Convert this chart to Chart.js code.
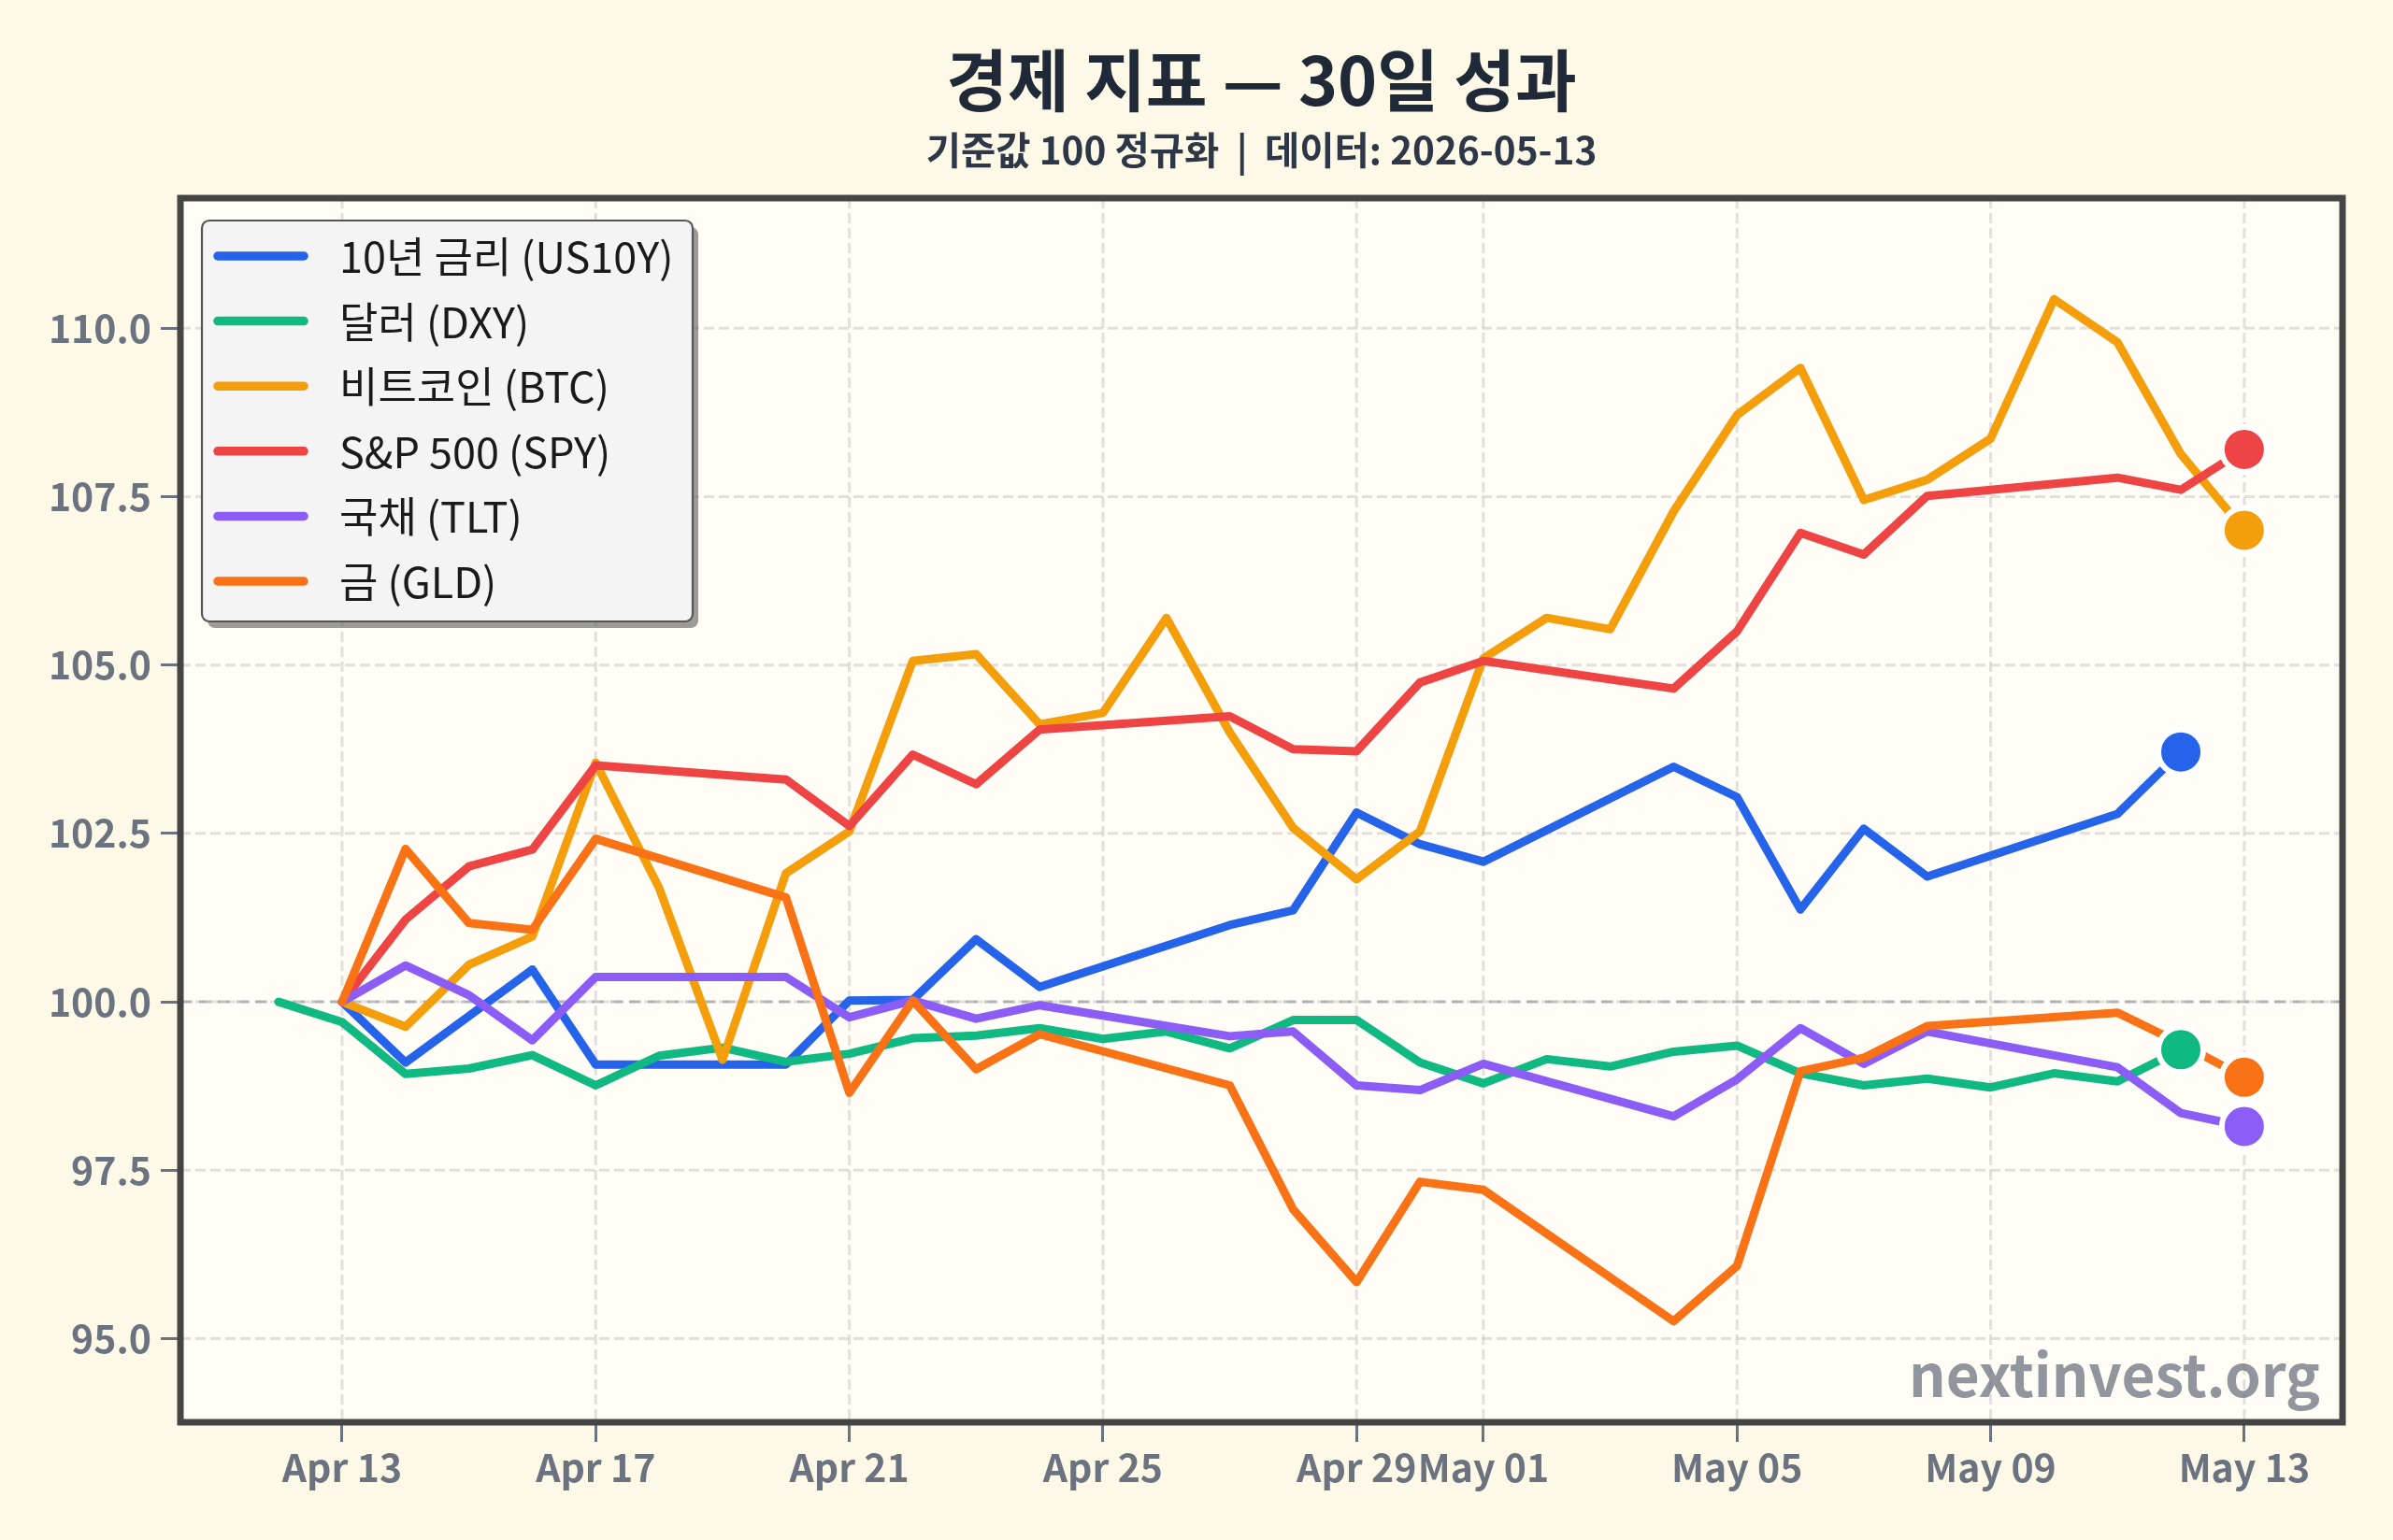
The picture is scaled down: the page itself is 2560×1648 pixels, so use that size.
<!DOCTYPE html>
<html><head><meta charset="utf-8">
<script src="https://cdn.jsdelivr.net/npm/chart.js@4.4.1/dist/chart.umd.min.js"></script>
<style>
html,body{margin:0;padding:0;background:#fef8e7;}
canvas{display:block;}
</style></head><body>
<canvas id="c" width="2560" height="1648"></canvas>
<script>
// ---------- DATA ----------
const DATES = ['2026-04-12','2026-04-13','2026-04-14','2026-04-15','2026-04-16','2026-04-17','2026-04-18','2026-04-19','2026-04-20','2026-04-21','2026-04-22','2026-04-23','2026-04-24','2026-04-25','2026-04-26','2026-04-27','2026-04-28','2026-04-29','2026-04-30','2026-05-01','2026-05-02','2026-05-03','2026-05-04','2026-05-05','2026-05-06','2026-05-07','2026-05-08','2026-05-09','2026-05-10','2026-05-11','2026-05-12','2026-05-13'];
const TICK_DATES = ['2026-04-13','2026-04-17','2026-04-21','2026-04-25','2026-04-29','2026-05-01','2026-05-05','2026-05-09','2026-05-13'];
const TICK_LABELS = ['Apr 13','Apr 17','Apr 21','Apr 25','Apr 29','May 01','May 05','May 09','May 13'];
const Y_TICKS = [95, 97.5, 100, 102.5, 105, 107.5, 110];
const BASELINE = 100;

const US10Y = [null,100.00,99.10,99.79,100.48,99.07,null,null,99.07,100.02,100.03,100.93,100.22,null,null,101.14,101.36,102.81,102.34,102.08,null,null,103.49,103.04,101.37,102.57,101.86,null,null,102.79,103.71,null];
const DXY   = [100.00,99.70,98.93,99.01,99.21,98.76,99.20,99.32,99.11,99.23,99.46,99.50,99.61,99.45,99.56,99.31,99.73,99.73,99.10,98.79,99.15,99.04,99.26,99.35,98.94,98.76,98.86,98.73,98.94,98.82,99.29,null];
const BTC   = [null,100.00,99.63,100.55,100.97,103.55,101.69,99.14,101.91,102.53,105.06,105.16,104.12,104.29,105.70,104.00,102.58,101.82,102.53,105.10,105.70,105.53,107.28,108.71,109.41,107.45,107.75,108.36,110.43,109.79,108.13,107.00];
const SPY   = [null,100.00,101.22,102.01,102.26,103.51,null,null,103.30,102.61,103.67,103.23,104.04,null,null,104.24,103.75,103.72,104.74,105.06,null,null,104.65,105.50,106.96,106.64,107.51,null,null,107.78,107.60,108.20];
const TLT   = [null,100.00,100.54,100.10,99.43,100.37,null,null,100.37,99.77,100.02,99.75,99.95,null,null,99.49,99.56,98.76,98.69,99.08,null,null,98.30,98.85,99.61,99.08,99.56,null,null,99.03,98.35,98.15];
const GLD   = [null,100.00,102.27,101.17,101.07,102.42,null,null,101.55,98.65,100.02,99.00,99.52,null,null,98.76,96.92,95.84,97.33,97.21,null,null,95.26,96.08,98.97,99.17,99.64,null,null,99.84,99.38,98.88];

const SERIES_LABELS = ['10년 금리 (US10Y)','달러 (DXY)','비트코인 (BTC)','S&P 500 (SPY)','국채 (TLT)','금 (GLD)'];
const SERIES_VALUES = [US10Y, DXY, BTC, SPY, TLT, GLD];
const SERIES_COLORS = ['#2563eb','#10b981','#f59e0b','#ef4444','#8b5cf6','#f97316'];

const TITLE = '경제 지표 — 30일 성과';
const SUBTITLE = '기준값 100 정규화  |  데이터: 2026-05-13';
const WATERMARK = 'nextinvest.org';

// ---------- STYLE ----------
const FONT = "'Noto Sans CJK KR', 'Noto Sans', sans-serif";
const PAGE_BG = '#fef8e7';
const PLOT_BG = '#fffdf6';
const TICK_COLOR = '#6b7280';

function toPoints(arr){
  const out = [];
  arr.forEach((v,i)=>{ if (v !== null) out.push({x:i, y:v}); });
  return out;
}
const lastPoints = SERIES_VALUES.map(arr => { const p = toPoints(arr); return p[p.length-1]; });

const datasets = SERIES_VALUES.map((arr, k) => ({
  label: SERIES_LABELS[k],
  data: toPoints(arr),
  borderColor: SERIES_COLORS[k],
  backgroundColor: SERIES_COLORS[k],
  borderWidth: 9,
  pointRadius: 0,
  tension: 0,
  fill: false,
  borderJoinStyle: 'round',
  borderCapStyle: 'round',
  order: SERIES_VALUES.length - k + 1
}));
datasets.push({
  label: '_ends',
  data: lastPoints,
  showLine: false,
  pointRadius: 24,
  pointBackgroundColor: SERIES_COLORS,
  pointBorderColor: '#ffffff',
  pointBorderWidth: 6,
  order: 0
});

const deco = {
  id: 'deco',
  beforeDraw(chart){
    const {ctx, chartArea:a} = chart;
    ctx.save();
    ctx.fillStyle = PAGE_BG;
    ctx.fillRect(0,0,chart.width,chart.height);
    ctx.fillStyle = PLOT_BG;
    ctx.fillRect(a.left, a.top, a.right-a.left, a.bottom-a.top);
    const cx = (a.left + a.right)/2;
    ctx.textAlign = 'center';
    ctx.textBaseline = 'middle';
    ctx.fillStyle = '#1f2937';
    ctx.font = `bold 71.5px ${FONT}`;
    ctx.fillText(TITLE, cx, 86);
    ctx.fillStyle = '#2d3748';
    ctx.font = `bold 40.5px ${FONT}`;
    ctx.fillText(SUBTITLE, cx, 161);
    ctx.restore();
  },
  beforeDatasetsDraw(chart){
    const {ctx, chartArea:a, scales} = chart;
    ctx.save();
    ctx.beginPath(); ctx.rect(a.left, a.top, a.right-a.left, a.bottom-a.top); ctx.clip();
    ctx.strokeStyle = 'rgba(200,200,200,0.55)';
    ctx.lineWidth = 3;
    ctx.setLineDash([11,5]);
    scales.x.ticks.forEach(t => {
      const px = scales.x.getPixelForValue(t.value);
      ctx.beginPath(); ctx.moveTo(px, a.top); ctx.lineTo(px, a.bottom); ctx.stroke();
    });
    scales.y.ticks.forEach(t => {
      const py = scales.y.getPixelForValue(t.value);
      ctx.beginPath(); ctx.moveTo(a.left, py); ctx.lineTo(a.right, py); ctx.stroke();
    });
    // baseline
    ctx.strokeStyle = 'rgba(120,126,138,0.45)';
    ctx.lineWidth = 3;
    ctx.setLineDash([13,7]);
    const by = scales.y.getPixelForValue(BASELINE);
    ctx.beginPath(); ctx.moveTo(a.left, by); ctx.lineTo(a.right, by); ctx.stroke();
    ctx.restore();
  },
  afterDraw(chart){
    const {ctx, chartArea:a} = chart;
    ctx.save();
    // watermark
    ctx.font = `bold 62px ${FONT}`;
    ctx.textAlign = 'right';
    ctx.textBaseline = 'alphabetic';
    ctx.fillStyle = 'rgba(107,114,128,0.75)';
    ctx.fillText(WATERMARK, a.right - 24, 1495);
    // frame
    ctx.strokeStyle = '#454545';
    ctx.lineWidth = 7;
    ctx.setLineDash([]);
    ctx.strokeRect(a.left, a.top, a.right-a.left, a.bottom-a.top);
    // legend
    const lx = 216, ly = 236, lw = 525, lh = 429;
    ctx.fillStyle = 'rgba(90,90,90,0.6)';
    ctx.beginPath(); ctx.roundRect(lx+6, ly+7, lw, lh, 8); ctx.fill();
    ctx.fillStyle = '#f4f4f5';
    ctx.beginPath(); ctx.roundRect(lx, ly, lw, lh, 8); ctx.fill();
    ctx.strokeStyle = '#555555';
    ctx.lineWidth = 2.2;
    ctx.stroke();
    ctx.font = `45px ${FONT}`;
    ctx.textAlign = 'left';
    ctx.textBaseline = 'middle';
    SERIES_LABELS.forEach((lab, i) => {
      const y = 274 + i*69.6;
      ctx.strokeStyle = SERIES_COLORS[i];
      ctx.lineWidth = 9.5;
      ctx.lineCap = 'round';
      ctx.beginPath(); ctx.moveTo(233, y); ctx.lineTo(325, y); ctx.stroke();
      ctx.fillStyle = '#1a1a1a';
      ctx.fillText(lab, 363, y + 1);
    });
    ctx.restore();
  }
};

new Chart(document.getElementById('c'), {
  type: 'line',
  data: { datasets },
  plugins: [deco],
  options: {
    responsive: false,
    animation: false,
    devicePixelRatio: 1,
    events: [],
    layout: { padding: { left: 0, top: 212, right: 54, bottom: 0 } },
    plugins: { legend: { display: false }, title: { display: false }, tooltip: { enabled: false } },
    scales: {
      x: {
        type: 'linear',
        min: -1.55, max: 32.55,
        afterBuildTicks: s => { s.ticks = TICK_DATES.map(d => ({ value: DATES.indexOf(d) })); },
        afterFit: s => { s.height = 126; },
        ticks: {
          autoSkip: false, maxRotation: 0, padding: 3,
          color: TICK_COLOR,
          font: { family: FONT, size: 41, weight: 'bold' },
          callback: v => TICK_LABELS[TICK_DATES.indexOf(DATES[v])]
        },
        grid: { display: true, drawOnChartArea: false, drawTicks: true, tickLength: 21, tickWidth: 3, tickColor: TICK_COLOR },
        border: { display: false }
      },
      y: {
        min: 93.76, max: 111.93,
        afterBuildTicks: s => { s.ticks = Y_TICKS.map(v => ({ value: v })); },
        afterFit: s => { s.width = 193; },
        ticks: {
          padding: 10,
          color: TICK_COLOR,
          font: { family: FONT, size: 41, weight: 'bold' },
          callback: v => Number(v).toFixed(1)
        },
        grid: { display: true, drawOnChartArea: false, drawTicks: true, tickLength: 21, tickWidth: 3, tickColor: TICK_COLOR },
        border: { display: false }
      }
    }
  }
});
</script>
</body></html>
